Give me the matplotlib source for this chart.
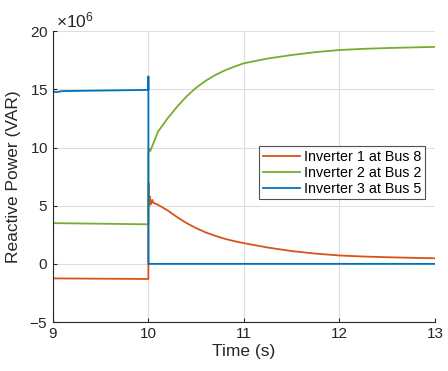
import matplotlib.pyplot as plt
from matplotlib.ticker import ScalarFormatter

plt.rcParams['font.family'] = ['Liberation Sans', 'DejaVu Sans']
plt.rcParams['mathtext.fontset'] = 'custom'
plt.rcParams['mathtext.rm'] = 'Liberation Sans'
plt.rcParams['mathtext.it'] = 'Liberation Sans:italic'
plt.rcParams['axes.unicode_minus'] = False

# reactive power samples, in MVAR
t_inv1 = [9.0, 10.0, 10.0, 10.004, 10.008, 10.015, 10.025, 10.04, 10.05, 10.1,
          10.2, 10.3, 10.4, 10.5, 10.6, 10.7, 10.8, 10.9, 11.0,
          11.25, 11.5, 11.75, 12.0, 12.25, 12.5, 12.75, 13.0]
q_inv1 = [-1.25, -1.3, 5.3, 6.9, 5.0, 5.8, 5.1, 5.5, 5.26, 5.08,
          4.6, 4.02, 3.5, 3.07, 2.7, 2.41, 2.15, 1.95, 1.78,
          1.4, 1.1, 0.88, 0.72, 0.63, 0.57, 0.52, 0.48]

t_inv2 = [9.0, 10.0, 10.0, 10.005, 10.02, 10.1, 10.2, 10.3, 10.4, 10.5,
          10.6, 10.7, 10.8, 10.9, 11.0, 11.25, 11.5, 11.75, 12.0,
          12.25, 12.5, 12.75, 13.0]
q_inv2 = [3.5, 3.4, 9.3, 9.9, 9.7, 11.35, 12.5, 13.5, 14.4, 15.14,
          15.74, 16.23, 16.63, 16.95, 17.24, 17.65, 17.95, 18.2, 18.38,
          18.48, 18.55, 18.6, 18.65]

t_inv3 = [9.0, 9.03, 9.1, 10.0, 10.0, 10.0, 13.0]
q_inv3 = [14.85, 14.75, 14.85, 14.95, 16.1, 0.0, 0.0]

labels = ['Inverter 1 at Bus 8', 'Inverter 2 at Bus 2', 'Inverter 3 at Bus 5']
colors = ['#D95319', '#77AC30', '#0072BD']

fig = plt.figure(figsize=(4.48, 3.71), dpi=100)
ax = fig.add_axes([0.118, 0.132, 0.853, 0.784])

for t, q, lab, c in zip([t_inv1, t_inv2, t_inv3], [q_inv1, q_inv2, q_inv3], labels, colors):
    ax.plot(t, [v * 1e6 for v in q], color=c, lw=1.3, label=lab)

ax.set_xlim(9, 13)
ax.set_ylim(-5e6, 20e6)
ax.set_xticks([9, 10, 11, 12, 13])
ax.set_yticks([v * 1e6 for v in [-5, 0, 5, 10, 15, 20]])
fmt = ScalarFormatter(useMathText=True)
fmt.set_powerlimits((6, 6))
ax.yaxis.set_major_formatter(fmt)
off = ax.yaxis.get_offset_text()
off.set_fontsize(12.5)
off.set_color('#262626')
off.set_x(0.008)

ax.grid(True, color='#dfdfdf', lw=0.8)
ax.set_axisbelow(True)
for s in ['top', 'right']:
    ax.spines[s].set_visible(False)
for s in ['left', 'bottom']:
    ax.spines[s].set_color('#262626')
ax.tick_params(direction='in', length=3, labelsize=11, colors='#262626')

ax.set_xlabel('Time (s)', fontsize=12.5, color='#262626', labelpad=2)
ax.set_ylabel('Reactive Power (VAR)', fontsize=12.5, color='#262626', labelpad=6)

leg = ax.legend(loc='upper left', bbox_to_anchor=(0.54, 0.605), fontsize=10.3,
                frameon=True, fancybox=False, edgecolor='#262626',
                handlelength=2.6, handletextpad=0.3, borderpad=0.25,
                labelspacing=0.15, borderaxespad=0)
leg.get_frame().set_linewidth(0.8)

fig.savefig('out.png', dpi=100)
